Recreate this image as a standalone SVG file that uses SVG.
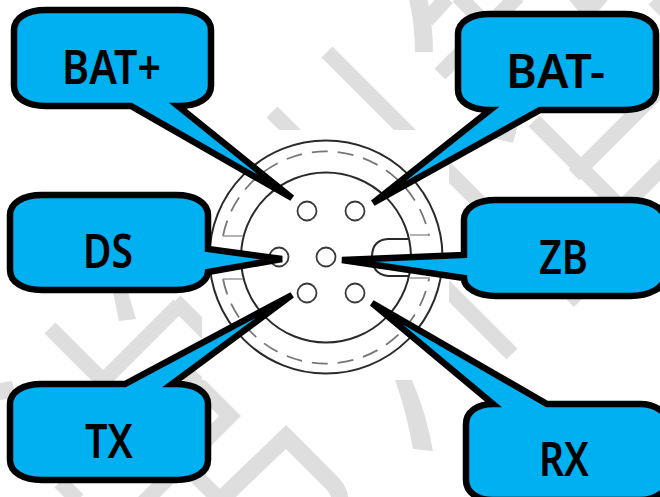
<svg xmlns="http://www.w3.org/2000/svg" width="660" height="497" viewBox="0 0 660 497">
<style>
.wm{fill:none;stroke:#dedede;stroke-width:15.5}
.wf{fill:#dedede;stroke:none}
.ring{fill:none;stroke:#2a2a2a;stroke-width:2}
.dash{fill:none;stroke:#777;stroke-width:1.8;stroke-dasharray:16 10}
.thin{fill:none;stroke:#999;stroke-width:1.5}
.pin{fill:#fff;stroke:#3a3a3a;stroke-width:1.8}
.call{fill:#00B0F0;stroke:#000;stroke-width:6.5}
.lbl{font-family:"Noto Sans","Liberation Sans",sans-serif;font-size:46px;font-weight:600;fill:#000}
</style>
<rect width="660" height="497" fill="#fff"/>
<g id="watermark">
<path class="wm" d="M327 52L412 137M272 112L302 142M427 20L447 -2M518 -4L440 74M458 -4L478 16M534 121L625 212M574 175L665 84M625 205L670 160M440 163L482 205M440 282L512 354M575 -5L592 15M602 -5L585 15M654 10L664 0"/>
<path class="wm" d="M50 328L105 383M179 305L105 379M175 301L210 336M185 371L230 416L135 511M180 460L225 505M60 482L78 500"/>
<path class="wm" style="stroke-width:17" d="M210 510L286 437L328 479Q340 490 340 500"/>
<path class="wm" style="stroke-width:18" d="M418 -2Q424 25 424 52"/>
<path class="wf" d="M113 292L128 292L136 319L119 321ZM0 383L12 381L16 398L0 400ZM493 138L513 143L522 110L500 110ZM566 299L574 307L582 299ZM395 380L412 380Q427 415 433 451L413 449Q406 410 395 380Z"/>
</g>
<rect x="202" y="130" width="247" height="250" fill="#fff"/>
<g id="connector-body">
<circle class="ring" cx="326" cy="257" r="116.5"/>
<circle class="ring" cx="326" cy="257.5" r="85"/>
<path class="dash" d="M223 236A105 105 0 0 1 429 236"/>
<path class="dash" d="M223 279A105 105 0 0 0 429 279"/>
<path class="thin" d="M223 236H243M223 279H243M410 235H430M410 278H430"/>
<path class="ring" d="M408 239H388Q372 240 372 257Q372 274 388 276H408"/>
</g>
<g id="pins">
<circle class="pin" cx="307" cy="211" r="9.5"/>
<circle class="pin" cx="355" cy="211" r="9.5"/>
<circle class="pin" cx="279" cy="257" r="9.5"/>
<circle class="pin" cx="326" cy="257" r="9.5"/>
<circle class="pin" cx="307" cy="293" r="9.5"/>
<circle class="pin" cx="355" cy="293" r="9.5"/>
</g>
<g id="node-bat-plus">
<path class="call" d="M46 10H179C198 10 211 18 211 30V86C211 98 198 106 179 106H178L292 198L131 106H46C27 106 14 98 14 86V30C14 18 27 10 46 10Z"/>
<text class="lbl" x="62" y="84" textLength="99" lengthAdjust="spacingAndGlyphs">BAT+</text>
</g>
<g id="node-bat-minus">
<path class="call" d="M490 14H624C643 14 656 22 656 34V90C656 102 643 110 624 110H540L373 203L490 110C471 110 458 102 458 90V34C458 22 471 14 490 14Z"/>
<text class="lbl" x="506" y="88" textLength="99" lengthAdjust="spacingAndGlyphs">BAT-</text>
</g>
<g id="node-ds">
<path class="call" d="M42 195H176C195 195 208 203 208 215V249L282 259L208 272C207 282 195 290 176 290H42C23 290 10 282 10 270V215C10 203 23 195 42 195Z"/>
<text class="lbl" x="83" y="268" textLength="50" lengthAdjust="spacingAndGlyphs">DS</text>
</g>
<g id="node-zb">
<path class="call" d="M496 200H630C649 200 665 208 665 220V276C665 288 649 296 630 296H496C477 296 464 288 464 278L342 260L464 255V220C464 208 477 200 496 200Z"/>
<text class="lbl" x="539" y="274" textLength="49" lengthAdjust="spacingAndGlyphs">ZB</text>
</g>
<g id="node-tx">
<path class="call" d="M42 384H125L292 295L172 384H176C195 384 208 392 208 404V460C208 472 195 480 176 480H42C23 480 10 472 10 460V404C10 392 23 384 42 384Z"/>
<text class="lbl" x="85" y="458" textLength="48" lengthAdjust="spacingAndGlyphs">TX</text>
</g>
<g id="node-rx">
<path class="call" d="M493 404C477 404 466 412 466 424V480C466 492 477 500 493 500H640C655 500 668 492 668 480V424C668 412 655 404 640 404H547L372 303Z"/>
<text class="lbl" x="539" y="476" textLength="50" lengthAdjust="spacingAndGlyphs">RX</text>
</g>
</svg>
